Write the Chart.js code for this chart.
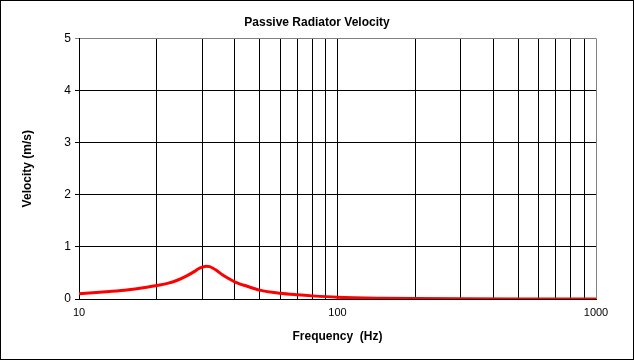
<!DOCTYPE html>
<html lang="en">
<head>
    <meta charset="UTF-8">
    <title>Passive Radiator Velocity</title>
    <script src="https://cdn.jsdelivr.net/npm/chart.js"></script>
    <style>
        body {
            margin: 0;
            padding: 0;
            background: #ffffff;
        }
        .wrap {
            position: relative;
            width: 634px;
            height: 360px;
        }
        .frame {
            position: absolute;
            left: 0;
            top: 0;
            width: 634px;
            height: 360px;
            box-sizing: border-box;
            border: 1px solid #000;
            pointer-events: none;
        }
    </style>
</head>
<body>
    <div class="wrap">
        <canvas id="velocityChart" width="634" height="360"></canvas>
        <div class="frame"></div>
    </div>

    <script>
        // frequency (Hz) and velocity (m/s)
        const freqs = [10, 12, 15, 18, 20, 22, 24, 26, 28, 29, 30, 31, 32, 33, 34, 36, 38, 40, 45, 50, 60, 70, 80, 100, 150, 200, 300, 500, 700, 1000];
        const velocity = [0.10, 0.13, 0.17, 0.22, 0.26, 0.30, 0.36, 0.44, 0.53, 0.58, 0.61, 0.63, 0.62, 0.59, 0.55, 0.46, 0.39, 0.33, 0.24, 0.17, 0.11, 0.08, 0.06, 0.035, 0.015, 0.008, 0.004, 0.002, 0.001, 0.0005];
        const yTicks = [0, 1, 2, 3, 4, 5];
        const xLabels = [10, 100, 1000];

        const font = "'Liberation Sans', Arial, sans-serif";

        new Chart(document.getElementById("velocityChart"), {
            type: "line",
            data: {
                datasets: [{
                    data: freqs.map((f, i) => ({ x: f, y: velocity[i] })),
                    borderColor: "#ff0000",
                    borderWidth: 3,
                    pointRadius: 0,
                    cubicInterpolationMode: "monotone",
                    fill: false
                }]
            },
            options: {
                responsive: false,
                animation: false,
                layout: { padding: 0 },
                plugins: {
                    legend: { display: false },
                    tooltip: { enabled: false },
                    title: {
                        display: true,
                        text: "Passive Radiator Velocity",
                        color: "#000",
                        font: { family: font, size: 12, weight: "bold" },
                        padding: { top: 15, bottom: 9 }
                    }
                },
                scales: {
                    x: {
                        type: "logarithmic",
                        min: 10,
                        max: 1000,
                        afterFit: s => { s.height = 61; },
                        afterBuildTicks: s => {
                            const t = [];
                            for (let d = 10; d < 1000; d *= 10)
                                for (let m = 1; m < 10; m++) t.push({ value: m * d });
                            t.push({ value: 1000 });
                            s.ticks = t;
                        },
                        ticks: {
                            autoSkip: false,
                            maxRotation: 0,
                            color: "#000",
                            padding: 7,
                            font: { family: font, size: 11 },
                            callback: v => xLabels.includes(v) ? String(v) : ""
                        },
                        grid: {
                            drawTicks: false,
                            color: c => c.tick && c.tick.value === 1000 ? "#808080" : "#000"
                        },
                        border: { color: "#000" },
                        title: {
                            display: true,
                            text: "Frequency  (Hz)",
                            color: "#000",
                            font: { family: font, size: 12, weight: "bold" },
                            padding: { top: 0, bottom: 16 }
                        }
                    },
                    y: {
                        min: 0,
                        max: 5,
                        afterFit: s => { s.width = 79; },
                        afterBuildTicks: s => { s.ticks = yTicks.map(v => ({ value: v })); },
                        ticks: {
                            color: "#000",
                            padding: 4,
                            font: { family: font, size: 12 }
                        },
                        grid: {
                            tickLength: 4,
                            color: c => c.tick && c.tick.value === 5 ? "#808080" : "#000"
                        },
                        border: { color: "#000" },
                        title: {
                            display: true,
                            text: "Velocity (m/s)",
                            color: "#000",
                            font: { family: font, size: 12, weight: "bold" },
                            padding: { top: 20, bottom: 0 }
                        }
                    },
                    // empty right-hand margin so the title stays centred on the page
                    yRight: {
                        position: "right",
                        min: 0,
                        max: 5,
                        afterFit: s => { s.width = 38; },
                        ticks: { display: false },
                        grid: { display: false, drawOnChartArea: false },
                        border: { display: false }
                    }
                }
            }
        });
    </script>
</body>
</html>
